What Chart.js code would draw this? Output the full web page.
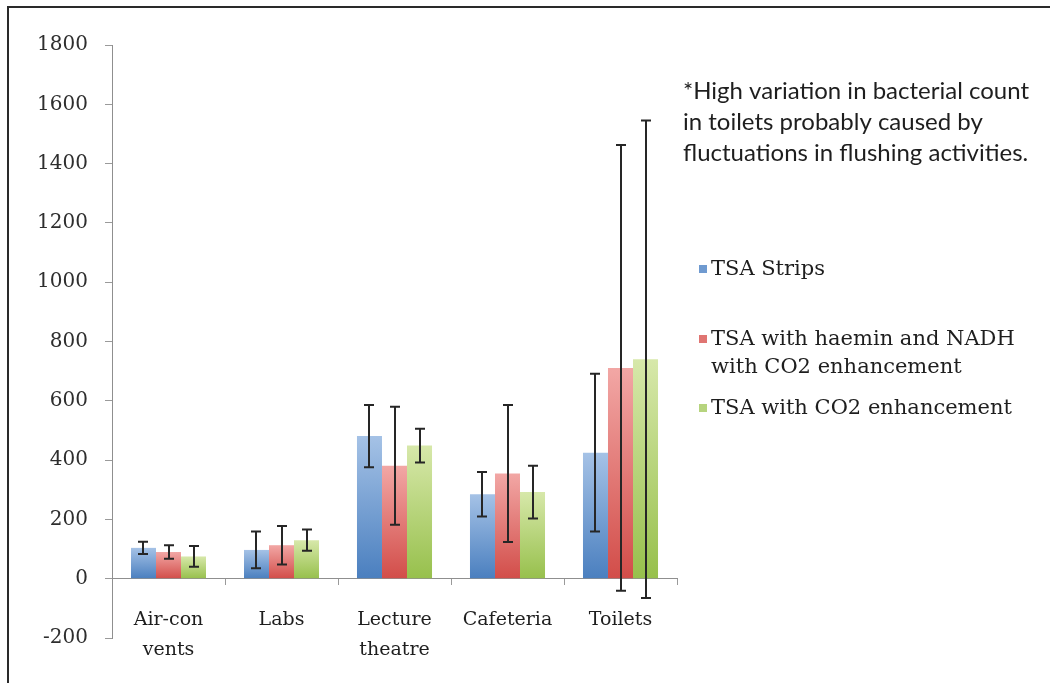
<!DOCTYPE html>
<html>
<head>
<meta charset="utf-8">
<script src="https://cdn.jsdelivr.net/npm/chart.js@4"></script>
<style>
  html, body { margin: 0; padding: 0; background: #fff; }
  #wrap { position: relative; width: 1050px; height: 683px; overflow: hidden; }
  #frame { position: absolute; left: 7px; top: 6px; width: 1100px; height: 700px;
           border-top: 2px solid #2a2a2a; border-left: 2px solid #2a2a2a; pointer-events: none; }
  canvas { position: absolute; left: 0; top: 0; }
</style>
</head>
<body>
<div id="wrap">
  <canvas id="c" width="1050" height="683"></canvas>
  <div id="frame"></div>
</div>
<script>
// Sampling sites
const categories = [['Air-con', 'vents'], 'Labs', ['Lecture', 'theatre'], 'Cafeteria', 'Toilets'];

// Mean bacterial counts per medium
const tsaStrips = [104, 97, 481, 285, 425];
const tsaHaemin = [90, 113, 381, 355, 711];
const tsaCo2 = [75, 130, 449, 292, 740];

// Error bar half-widths (±) per medium
const tsaStripsErr = [21, 62, 105, 75, 266];
const tsaHaeminErr = [23, 65, 199, 231, 752];
const tsaCo2Err = [35, 36, 57, 89, 805];

// Series names and the wrapped form used in the legend
const seriesNames = ['TSA Strips', 'TSA with haemin and NADH with CO2 enhancement', 'TSA with CO2 enhancement'];
const legendLines = [['TSA Strips'], ['TSA with haemin and NADH', 'with CO2 enhancement'], ['TSA with CO2 enhancement']];

// Y axis range
const yMin = -200, yMax = 1800, yStep = 200;

// Footnote text
const noteLines = ['*High variation in bacterial count', 'in toilets probably caused by', 'fluctuations in flushing activities.'];

// Vertical gradient per bar: light at the top, saturated at the base
function barFill(light, dark) {
  return (ctx) => {
    const chart = ctx.chart;
    if (!chart.chartArea || ctx.type !== 'data' || !chart.scales.y) return dark;
    const ys = chart.scales.y;
    const yTop = ys.getPixelForValue(ctx.parsed.y);
    const yBase = ys.getPixelForValue(0);
    if (!isFinite(yTop) || !isFinite(yBase) || yTop === yBase) return dark;
    const g = chart.ctx.createLinearGradient(0, yTop, 0, yBase);
    g.addColorStop(0, light);
    g.addColorStop(1, dark);
    return g;
  };
}

const palette = [
  { light: '#a5c2e6', dark: '#4a7fbf', swatch: '#6f9ad0' },
  { light: '#f2a7a5', dark: '#d24d49', swatch: '#e07572' },
  { light: '#d7e8aa', dark: '#97c04c', swatch: '#b6d47e' }
];

const errors = [tsaStripsErr, tsaHaeminErr, tsaCo2Err];

// Draws the ± error bars on top of each bar
const errorBars = {
  id: 'errorBars',
  afterDatasetsDraw(chart) {
    const { ctx } = chart;
    const ys = chart.scales.y;
    ctx.save();
    ctx.strokeStyle = '#262626';
    ctx.lineWidth = 2;
    chart.data.datasets.forEach((ds, di) => {
      const meta = chart.getDatasetMeta(di);
      meta.data.forEach((bar, i) => {
        const v = ds.data[i], e = errors[di][i];
        const x = Math.round(bar.x);
        const yHi = ys.getPixelForValue(v + e);
        const yLo = ys.getPixelForValue(v - e);
        const cap = 5;
        ctx.beginPath();
        ctx.moveTo(x, yHi); ctx.lineTo(x, yLo);
        ctx.moveTo(x - cap, yHi); ctx.lineTo(x + cap, yHi);
        ctx.moveTo(x - cap, yLo); ctx.lineTo(x + cap, yLo);
        ctx.stroke();
      });
    });
    ctx.restore();
  }
};

// Legend and footnote to the right of the plot
const sideText = {
  id: 'sideText',
  afterDraw(chart) {
    const { ctx } = chart;
    ctx.save();
    ctx.textBaseline = 'middle';
    ctx.textAlign = 'left';

    // footnote
    ctx.fillStyle = '#1e1e1e';
    ctx.font = '24px Lato';
    const noteY = [91, 122, 153];
    noteLines.forEach((t, i) => ctx.fillText(t, 683, noteY[i]));

    // legend
    ctx.font = '21px "DejaVu Serif"';
    const startY = [270, 340, 409];
    legendLines.forEach((lines, i) => {
      ctx.fillStyle = palette[i].swatch;
      ctx.fillRect(699, startY[i] - 5, 8, 8);
      ctx.fillStyle = '#1e1e1e';
      lines.forEach((t, k) => ctx.fillText(t, 711, startY[i] + k * 28));
    });
    ctx.restore();
  }
};

const datasets = [tsaStrips, tsaHaemin, tsaCo2].map((vals, i) => ({
  label: seriesNames[i],
  data: vals,
  backgroundColor: barFill(palette[i].light, palette[i].dark),
  borderWidth: 0,
  categoryPercentage: 0.664,
  barPercentage: 1.0
}));

new Chart(document.getElementById('c'), {
  type: 'bar',
  data: { labels: categories, datasets },
  options: {
    responsive: false,
    animation: false,
    devicePixelRatio: 1,
    layout: { padding: { left: 0, right: 373, top: 45, bottom: 45 } },
    plugins: { legend: { display: false }, tooltip: { enabled: false } },
    scales: {
      x: {
        position: { y: 0 },
        afterFit(scale) { scale.height = 0; },
        grid: { drawOnChartArea: false, drawTicks: true, tickLength: 6, color: '#9a9a9a', offset: true },
        border: { display: true, color: '#8f8f8f', width: 1 },
        ticks: {
          color: '#1e1e1e',
          padding: 20,
          font: { family: 'DejaVu Serif', size: 19, lineHeight: 1.58 }
        }
      },
      y: {
        min: yMin,
        max: yMax,
        afterFit(scale) { scale.width = 112; },
        grid: { drawOnChartArea: false, drawTicks: true, tickLength: 7, color: '#9a9a9a' },
        border: { display: true, color: '#8f8f8f', width: 1 },
        ticks: {
          stepSize: yStep,
          color: '#2e2e2e',
          padding: 17,
          font: { family: 'DejaVu Serif', size: 20 },
          callback: (v) => String(v)
        }
      }
    }
  },
  plugins: [errorBars, sideText]
});
</script>
</body>
</html>
